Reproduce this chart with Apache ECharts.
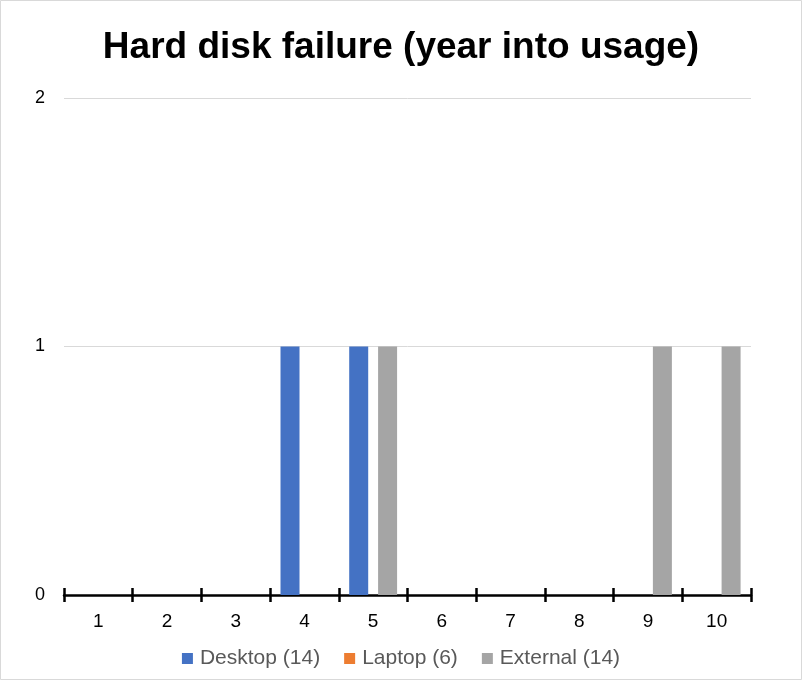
<!DOCTYPE html>
<html>
  <head>
    <meta charset="UTF-8" />
    <title>Hard disk failure</title>
    <style type="text/css">
      html,
      body {
        width: 100%;
        height: 100%;
        margin: 0;
        padding: 0;
        overflow: hidden;
        background: #fff;
      }
      #chart {
        width: 802px;
        height: 680px;
      }
    </style>
  </head>
  <body>
    <div id="chart"></div>
    <script src="https://cdn.jsdelivr.net/npm/echarts@6/dist/echarts.min.js"></script>
    <script type="text/javascript">
      const years = ["1", "2", "3", "4", "5", "6", "7", "8", "9", "10"];
      const desktop = [0, 0, 0, 1, 1, 0, 0, 0, 0, 0];
      const laptop = [0, 0, 0, 0, 0, 0, 0, 0, 0, 0];
      const external = [0, 0, 0, 0, 1, 0, 0, 0, 1, 1];
      const seriesNames = ["Desktop (14)", "Laptop (6)", "External (14)"];
      const colors = ["#4472C4", "#ED7D31", "#A5A5A5"];

      const chart = echarts.init(document.getElementById("chart"));
      const font = "Liberation Sans, Arial, sans-serif";

      const makeBar = (name, data, color) => ({
        name: name,
        type: "bar",
        data: data,
        barWidth: 19,
        barGap: "-24%",
        itemStyle: { color: color },
      });

      chart.setOption({
        animation: false,
        backgroundColor: "#fff",
        textStyle: { fontFamily: font },
        title: {
          text: "Hard disk failure (year into usage)",
          left: "center",
          top: 24,
          textStyle: {
            fontSize: 37,
            fontWeight: "bold",
            color: "#000",
            fontFamily: font,
          },
        },
        graphic: [
          {
            type: "rect",
            shape: { x: 0.5, y: 0.5, width: 801, height: 679 },
            style: { fill: "none", stroke: "#d9d9d9", lineWidth: 1 },
            silent: true,
          },
        ],
        legend: {
          top: 643,
          left: "center",
          icon: "rect",
          itemWidth: 11,
          itemHeight: 11,
          itemGap: 24,
          textStyle: { fontSize: 21, color: "#595959", fontFamily: font, padding: [0, 0, 0, 2] },
          data: seriesNames,
        },
        grid: { left: 64, right: 51, top: 98, bottom: 85 },
        xAxis: [
          {
            type: "category",
            data: years,
            axisLine: { lineStyle: { color: "#000", width: 2.5 } },
            axisTick: { show: true, length: 7, lineStyle: { color: "#000", width: 2.5 } },
            axisLabel: { fontSize: 19, color: "#000", margin: 17 },
          },
          {
            type: "category",
            data: years,
            position: "bottom",
            axisLine: { show: false },
            axisTick: { show: true, inside: true, length: 7, lineStyle: { color: "#000", width: 2.5 } },
            axisLabel: { show: false },
          },
        ],
        yAxis: {
          type: "value",
          min: 0,
          max: 2,
          interval: 1,
          axisLine: { show: false },
          axisTick: { show: false },
          axisLabel: { fontSize: 18, color: "#000", margin: 19 },
          splitLine: { lineStyle: { color: "#d9d9d9", width: 1 } },
        },
        series: [
          makeBar(seriesNames[0], desktop, colors[0]),
          makeBar(seriesNames[1], laptop, colors[1]),
          makeBar(seriesNames[2], external, colors[2]),
        ],
      });
    </script>
  </body>
</html>
